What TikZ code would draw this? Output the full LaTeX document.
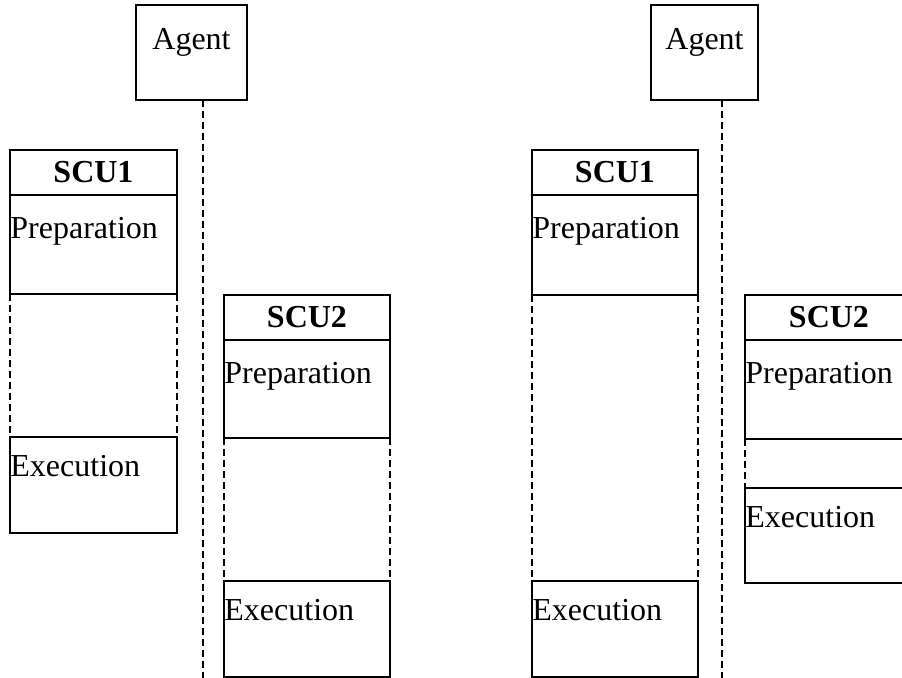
\documentclass[tikz,border=0pt]{standalone}
\usepackage{fontspec}
\setmainfont{Liberation Serif}
\begin{document}
\begin{tikzpicture}[x=0.5pt,y=-0.5pt,
	box/.style={draw,line width=1.25pt,anchor=north west,inner sep=0pt,outer sep=0pt},
	lbl/.style={font=\fontsize{16}{19}\selectfont,inner sep=0pt,anchor=base west},
	hdr/.style={font=\fontsize{16}{19}\selectfont\bfseries,inner sep=0pt,anchor=base},
	life/.style={line width=1.25pt,dash pattern=on 3.5pt off 2pt}
	]
	\useasboundingbox (0,0) rectangle (902,678);
	\clip (0,0) rectangle (902,678);
	% left: agents
	\node[box,minimum width=55.5pt,minimum height=47.5pt] (agL) at (136,5) {};
	\node[lbl,anchor=base] (agLt) at (191.5,50) {Agent};
	\coordinate (endL) at (203,678);
	\draw[life] (agL.south -| endL) -- (endL);
	% left: SCU1
	\node[box,minimum width=83.5pt,minimum height=22.5pt] (l1h) at (10,150) {};
	\node[hdr] (l1ht) at (93.5,183) {SCU1};
	\node[box,minimum width=83.5pt,minimum height=49.5pt] (l1p) at (10,195) {};
	\node[lbl] (l1pt) at (10,239) {Preparation};
	\node[box,minimum width=83.5pt,minimum height=48pt] (l1e) at (10,437) {};
	\node[lbl] (l1et) at (10,477) {Execution};
	\draw[life] (l1p.south west) -- (l1e.north west);
	\draw[life] (l1p.south east) -- (l1e.north east);
	% left: SCU2
	\node[box,minimum width=83pt,minimum height=22.5pt] (l2h) at (224,295) {};
	\node[hdr] (l2ht) at (307,328) {SCU2};
	\node[box,minimum width=83pt,minimum height=49pt] (l2p) at (224,340) {};
	\node[lbl] (l2pt) at (224,384) {Preparation};
	\node[box,minimum width=83pt,minimum height=48pt] (l2e) at (224,581) {};
	\node[lbl] (l2et) at (224,621) {Execution};
	\draw[life] (l2p.south west) -- (l2e.north west);
	\draw[life] (l2p.south east) -- (l2e.north east);
	% right: agent
	\node[box,minimum width=53.5pt,minimum height=47.5pt] (agR) at (651,5) {};
	\node[lbl,anchor=base] (agRt) at (704.5,50) {Agent};
	\coordinate (endR) at (722,678);
	\draw[life] (agR.south -| endR) -- (endR);
	% right: SCU1
	\node[box,minimum width=83pt,minimum height=22.5pt] (r1h) at (532,150) {};
	\node[hdr] (r1ht) at (615,183) {SCU1};
	\node[box,minimum width=83pt,minimum height=50pt] (r1p) at (532,195) {};
	\node[lbl] (r1pt) at (532,239) {Preparation};
	\node[box,minimum width=83pt,minimum height=48pt] (r1e) at (532,581) {};
	\node[lbl] (r1et) at (532,621) {Execution};
	\draw[life] (r1p.south west) -- (r1e.north west);
	\draw[life] (r1p.south east) -- (r1e.north east);
	% right: SCU2 (runs off the page)
	\node[box,minimum width=85pt,minimum height=22.5pt] (r2h) at (745,295) {};
	\node[hdr] (r2ht) at (829,328) {SCU2};
	\node[box,minimum width=85pt,minimum height=49.5pt] (r2p) at (745,340) {};
	\node[lbl] (r2pt) at (745,384) {Preparation};
	\node[box,minimum width=85pt,minimum height=47.5pt] (r2e) at (745,488) {};
	\node[lbl] (r2et) at (745,528) {Execution};
	\draw[life] (r2p.south west) -- (r2e.north west);
\end{tikzpicture}
\end{document}
